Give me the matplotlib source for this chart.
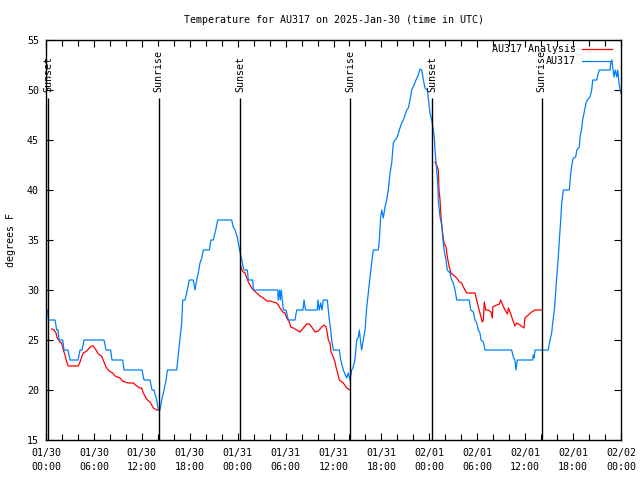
import numpy as np
import pandas as pd
import matplotlib
matplotlib.use("Agg")
import matplotlib.pyplot as plt
import matplotlib.dates as mdates
from matplotlib.ticker import MultipleLocator

START = pd.Timestamp("2025-01-30 00:00")

# Observed AU317 temperatures: hours after 01/30 00:00 UTC, degrees F
obs_hours = [0.03, 0.19, 0.31, 1.13, 1.34, 1.50, 1.63, 2.09, 2.25, 2.75, 3.01, 4.01, 4.26, 4.51, 4.76,
             7.26, 7.51, 8.10, 8.26, 9.60, 9.77, 12.02, 12.27, 13.02, 13.27, 13.52, 13.86, 14.06, 14.27,
             14.49, 14.78, 15.03, 15.21, 16.37, 16.49, 16.69, 16.99, 17.12, 17.41, 17.69, 17.94, 18.44,
             18.66, 18.87, 19.07, 19.28, 19.50, 19.70, 20.45, 20.66, 20.95, 21.25, 21.50, 23.25, 23.45,
             23.67, 23.95, 24.08, 24.29, 24.51, 24.71, 24.80, 25.21, 25.33, 25.88, 25.96, 29.01, 29.09,
             29.24, 29.34, 29.46, 29.72, 30.05, 30.34, 31.18, 31.39, 32.18, 32.31, 32.49, 33.97, 34.05,
             34.22, 34.40, 34.56, 34.72, 35.22, 35.35, 35.48, 35.65, 35.77, 35.98, 36.73, 36.90, 37.23,
             37.65, 37.85, 38.06, 38.27, 38.43, 38.68, 38.91, 39.11, 39.23, 39.41, 39.53, 39.73, 39.95,
             40.16, 40.36, 40.57, 40.78, 40.98, 41.61, 41.74, 41.91, 42.04, 42.24, 42.45, 42.66, 42.86,
             43.08, 43.29, 43.49, 43.70, 43.99, 44.24, 44.54, 44.74, 45.17, 45.37, 45.58, 45.79, 46.08,
             46.33, 46.62, 46.83, 47.05, 47.25, 47.46, 47.75, 47.87, 48.08, 48.30, 48.50, 48.62, 48.71,
             48.92, 49.05, 49.12, 49.34, 49.55, 49.67, 49.84, 50.09, 50.25, 50.59, 50.80, 51.00, 51.22,
             51.43, 53.01, 53.18, 53.51, 53.72, 53.93, 54.13, 54.34, 54.47, 54.76, 54.97, 58.31, 58.51,
             58.72, 58.85, 59.02, 60.94, 61.02, 61.11, 61.23, 62.89, 63.11, 63.32, 63.44, 63.61, 63.73,
             63.86, 64.03, 64.15, 64.28, 64.45, 64.58, 64.78, 65.53, 65.71, 65.91, 66.03, 66.33, 66.46,
             66.78, 66.87, 67.08, 67.20, 67.37, 67.62, 67.78, 68.12, 68.33, 68.46, 68.96, 69.16, 69.29,
             70.63, 70.71, 70.84, 70.96, 71.13, 71.29, 71.47, 71.59, 71.75, 71.96]
obs_temps = [28, 28, 27, 27, 26, 26, 25, 25, 24, 24, 23, 23, 24, 24, 25,
             25, 24, 24, 23, 23, 22, 22, 21, 21, 20, 20, 19, 18, 18,
             19, 20, 21, 22, 22, 23, 24.5, 26.7, 29, 29, 30, 31, 31,
             30, 31, 31.7, 32.7, 33.2, 34, 34, 35, 35, 36, 37, 37, 36.3,
             36, 35.3, 34.7, 33.8, 33, 32.2, 32, 32, 31, 31, 30, 30, 29,
             30, 29, 30, 28, 28, 27, 27, 28, 28, 29, 28, 28, 29,
             28, 28.7, 28, 29, 29, 28, 27, 26, 25, 24, 24, 23, 22,
             21.2, 21.7, 21, 22, 22.2, 23, 25, 25.3, 26, 24.7, 24, 25, 26,
             28.3, 29.7, 31.3, 32.7, 34, 34, 35, 37.3, 38, 37.2, 38.3, 39, 40,
             41.7, 42.7, 44.7, 45, 45.3, 46, 46.7, 47, 48, 48.2, 49, 50, 50.5,
             51, 51.5, 52.1, 52, 51, 50.2, 50, 49.2, 47.7, 47, 46, 45.3, 44,
             42, 40.7, 39, 37.3, 36.5, 35.3, 34, 33, 32, 31.7, 31, 30.7, 30,
             29, 29, 28, 27.8, 27, 26.7, 26, 25.7, 25, 24.8, 24, 24, 23.3,
             23, 22, 23, 23, 23.5, 23.2, 24, 24, 25, 25.7, 26.7, 27.7, 28.7,
             30.3, 32, 33.3, 35, 37, 38.7, 40, 40, 41.7, 42.8, 43.2, 43.3, 44,
             44.3, 45.3, 46.2, 47, 47.7, 48.7, 49, 49.3, 50, 51, 51, 51.7, 52,
             52, 52.7, 53, 52.3, 51.3, 52, 51.3, 52, 50.7, 49.7]

# Analysis temperatures (three nighttime windows, NaN = gap)
ana_hours = [0.71, 1.00, 1.25, 1.41, 1.75, 1.97, 2.17, 2.38, 2.59, 2.79, 4.04, 4.26, 4.47, 4.67, 4.88,
             5.10, 5.42, 5.72, 5.92, 6.26, 6.55, 6.97, 7.26, 7.51, 7.80, 8.10, 8.35, 8.64, 8.93, 9.27,
             9.60, 9.89, 10.31, 10.93, 11.36, 11.77, 11.98, 12.18, 12.52, 12.81, 13.02, 13.24, 13.44,
             13.86, 14.19,
             14.2,
             24.35, 24.51, 24.71, 24.92, 25.13, 25.33, 25.55, 25.76, 25.96, 26.38, 26.80, 27.21, 27.64,
             28.05, 28.46, 28.89, 29.09, 29.30, 29.64, 29.93, 30.14, 30.47, 30.64, 30.96, 31.39, 31.81,
             32.22, 32.64, 32.97, 33.27, 33.68, 34.10, 34.52, 34.85, 35.06, 35.22, 35.35, 35.56, 35.69,
             35.98, 36.19, 36.31, 36.48, 36.73, 37.23, 37.65, 38.06,
             38.1,
             48.71, 48.92, 49.12, 49.21, 49.34, 49.46, 49.67, 49.84, 50.09, 50.25, 50.50, 50.71, 51.00,
             51.43, 51.76, 52.05, 52.26, 52.68, 53.72, 54.01, 54.34, 54.63, 54.76, 54.88, 55.06, 55.39,
             55.73, 55.89, 55.94, 56.44, 56.77, 56.94, 57.19, 57.48, 57.77, 57.90, 58.11, 58.44, 58.72,
             58.93, 59.35, 59.85, 59.97, 60.39, 60.81, 61.23, 62.07]
ana_temps = [26.1, 26, 25.7, 25.2, 24.8, 24.7, 24, 23.5, 22.8, 22.4, 22.4, 22.8, 23.3, 23.7, 23.8,
             23.9, 24.2, 24.4, 24.4, 24, 23.6, 23.4, 22.8, 22.3, 22, 21.8, 21.7, 21.4, 21.3, 21.2,
             20.9, 20.8, 20.7, 20.7, 20.4, 20.2, 20.2, 19.7, 19.2, 18.9, 18.8, 18.5, 18.2,
             18, 18,
             np.nan,
             32.5, 32, 31.8, 31.7, 31.2, 30.8, 30.5, 30.2, 30, 29.7, 29.4, 29.2, 28.9,
             28.9, 28.8, 28.7, 28.5, 28.2, 27.8, 27.7, 27.2, 26.8, 26.3, 26.2, 26, 25.8,
             26.2, 26.6, 26.6, 26.3, 25.8, 25.9, 26.3, 26.5, 26.3, 25.7, 25, 24.7, 23.8,
             23.3, 22.8, 22.3, 21.8, 21, 20.7, 20.2, 20,
             np.nan,
             42.8, 42.5, 42, 40, 39, 37.3, 35.7, 34.7, 34.3, 33.3, 32.3, 31.7, 31.5,
             31.2, 30.8, 30.7, 30.3, 29.7, 29.7, 28.7, 27.7, 26.8, 27, 28.8, 28, 28,
             27.8, 27.2, 28.3, 28.5, 28.6, 29, 28.5, 28, 27.6, 28.2, 27.8, 27, 26.4,
             26.7, 26.5, 26.2, 27.2, 27.5, 27.8, 28, 28]

# Sun events (hours after 01/30 00:00 UTC)
event_hours = [0.31, 14.13, 24.29, 38.06, 48.33, 62.08]
event_labels = ["Sunset", "Sunrise", "Sunset", "Sunrise", "Sunset", "Sunrise"]

title = "Temperature for AU317 on 2025-Jan-30 (time in UTC)"
ylabel = "degrees F"
legend_labels = ["AU317 Analysis", "AU317"]

def to_time(hours):
    return START + pd.to_timedelta(np.asarray(hours, dtype=float), unit="h")

FONT = "DejaVu Sans Mono"
FS = 7.2
plt.rcParams["font.family"] = [FONT, "DejaVu Sans"]
plt.rcParams["font.size"] = FS

fig = plt.figure(figsize=(6.4, 4.8), dpi=100)
ax = fig.add_axes([46 / 640, 1 - 440 / 480, (621 - 46) / 640, 400 / 480])

ax.plot(to_time(ana_hours), ana_temps, color="#ff0000", lw=0.9, label=legend_labels[0])
ax.plot(to_time(obs_hours), obs_temps, color="#0080ff", lw=0.9, label=legend_labels[1])

for h, lab in zip(event_hours, event_labels):
    t = to_time([h])[0]
    ax.vlines(t, 15, 49.2, color="black", lw=1.0)
    ax.text(t, 49.8, lab, rotation=90, ha="center", va="bottom", fontsize=FS)

ax.set_xlim(START, START + pd.Timedelta(hours=72))
ax.set_ylim(15, 55)
ax.yaxis.set_major_locator(MultipleLocator(5))
ax.xaxis.set_major_locator(mdates.HourLocator(byhour=[0, 6, 12, 18]))
ax.xaxis.set_minor_locator(mdates.HourLocator(byhour=range(0, 24, 2)))
ax.xaxis.set_major_formatter(mdates.DateFormatter("%m/%d\n%H:%M"))
ax.tick_params(which="both", direction="in", top=True, right=True, labelsize=FS, width=0.8)
ax.tick_params(which="major", length=5, pad=5)
ax.tick_params(which="minor", length=4)
ax.tick_params(axis="x", which="major", pad=6)
for lbl in ax.get_xticklabels():
    lbl.set_linespacing(1.45)
for s in ax.spines.values():
    s.set_linewidth(1.0)

ax.set_title(title, fontsize=FS, pad=12)
ax.set_ylabel(ylabel, fontsize=FS, labelpad=8)

leg = ax.legend(loc="upper right", bbox_to_anchor=(0.995, 1.005), frameon=False,
                markerfirst=False, handlelength=3.0, handletextpad=0.6, labelspacing=0.25,
                fontsize=FS, borderaxespad=0.2)

fig.savefig("out.png", dpi=100)
